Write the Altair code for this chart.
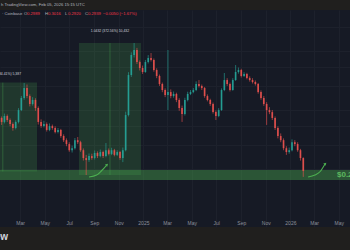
import altair as alt
import pandas as pd

# ---------------- data (ADA/USD weekly candles) ----------------
week_dates = [d.strftime("%Y-%m-%d") for d in pd.date_range("2024-01-08", periods=109, freq="7D")]

opens = [.526, .548, .523, .561, .535, .510, .487, .523, .601, .693,
         .779, .709, .646, .677, .616, .523, .498, .510, .476, .498,
         .487, .464, .476, .443, .422, .403, .375, .384, .422, .412,
         .375, .342, .334, .350, .342, .363, .350, .367, .350, .375,
         .359, .375, .355, .367, .342, .375, .567, .908, 1.149, 1.219,
         1.058, .986, .941, 1.058, 1.109, 1.083, .963, .898, .817, .761,
         .718, .743, .709, .727, .677, .616, .575, .677, .727, .743,
         .761, .817, .798, .779, .709, .677, .646, .587, .561, .601,
         .761, .856, .817, .761, .856, .941, .963, .898, .918, .876,
         .856, .836, .817, .743, .693, .646, .601, .587, .548, .487,
         .443, .422, .384, .367, .375, .412, .403, .375, .342]
highs = [.568, .558, .577, .571, .545, .520, .533, .615, .710, .827,
         .812, .723, .700, .691, .628, .539, .530, .520, .514, .507,
         .497, .487, .482, .452, .431, .412, .396, .433, .438, .419,
         .383, .355, .361, .360, .374, .370, .378, .373, .408, .383,
         .386, .381, .375, .372, .387, .590, .939, 1.186, 1.3232, 1.249,
         1.078, 1.015, 1.084, 1.148, 1.176, 1.103, .983, .913, .831, .776,
         1.219, .767, .748, .738, .691, .634, .695, .746, .761, .780,
         .843, .856, .812, .789, .723, .687, .657, .599, .615, .776,
         .930, .875, .831, .875, 1.021, .992, .977, .939, .932, .894,
         .875, .852, .827, .758, .710, .660, .622, .602, .558, .497,
         .457, .431, .393, .387, .426, .422, .412, .381, .345]
lows = [.514, .505, .514, .523, .497, .472, .479, .514, .594, .679,
        .691, .628, .634, .596, .507, .488, .490, .467, .469, .477,
        .457, .457, .434, .413, .393, .368, .365, .378, .403, .368,
        .332, .2800, .327, .335, .336, .342, .345, .342, .345, .353,
        .354, .349, .350, .335, .326, .370, .558, .888, 1.116, 1.034,
        .958, .920, .932, 1.040, 1.065, .945, .875, .799, .742, .700,
        .601, .691, .695, .660, .596, .523, .564, .666, .717, .733,
        .751, .784, .761, .695, .666, .632, .577, .535, .553, .596,
        .751, .799, .748, .755, .847, .923, .882, .888, .863, .840,
        .822, .802, .729, .679, .632, .505, .573, .535, .476, .431,
        .412, .375, .355, .360, .370, .393, .368, .332, .274]
closes = [.548, .523, .561, .535, .510, .487, .523, .601, .693, .779,
          .709, .646, .677, .616, .523, .498, .510, .476, .498, .487,
          .464, .476, .443, .422, .403, .375, .384, .422, .412, .375,
          .342, .334, .350, .342, .363, .350, .367, .350, .375, .359,
          .375, .355, .367, .342, .375, .567, .908, 1.149, 1.219, 1.058,
          .986, .941, 1.058, 1.109, 1.083, .963, .898, .817, .761, .718,
          .743, .709, .727, .677, .616, .575, .677, .727, .743, .761,
          .817, .798, .779, .709, .677, .646, .587, .561, .601, .761,
          .856, .817, .761, .856, .941, .963, .898, .918, .876, .856,
          .836, .817, .743, .693, .646, .601, .587, .548, .487, .443,
          .422, .384, .367, .375, .412, .403, .375, .342, .2939]

# price-range boxes drawn on the chart
box_start = ["2023-10-26", "2024-07-25"]
box_end = ["2024-04-12", "2024-12-26"]
box_mid = ["2024-01-18", "2024-10-10"]
box_low = [0.2921, 0.2800]
box_high = [0.8308, 1.3232]
box_text = ["0.5387 (184.41%) 5,387", "1.0432 (372.56%) 10,432"]
box_label_price = [0.919, 1.524]

# support zone
support_low = 0.2640
support_high = 0.2971
support_mid = 0.2800
support_label = "$0.28"

# hand-drawn arrows
arrow_id = [1, 1, 1, 1, 2, 2, 2, 2]
arrow_dates = ["2024-08-19", "2024-09-07", "2024-09-19", "2024-10-02",
               "2026-02-14", "2026-03-03", "2026-03-16", "2026-03-28"]
arrow_prices = [0.2736, 0.2800, 0.2945, 0.3151,
                0.2736, 0.2800, 0.2920, 0.3188]

header_text = "h TradingView.com, Feb 05, 2026 15:15 UTC"
legend_labels = ["· Coinbase", "O", "0.2989", "H", "0.3016", "L", "0.2920", "C", "0.2939", "−0.0050 (−1.67%)"]
legend_kind = ["name", "key", "val", "key", "val", "key", "val", "key", "val", "val"]

tick_dates = [(2024, 1), (2024, 3), (2024, 5), (2024, 7), (2024, 9), (2024, 11),
              (2025, 1), (2025, 3), (2025, 5), (2025, 7), (2025, 9), (2025, 11),
              (2026, 1), (2026, 3), (2026, 5)]

# ---------------- tables ----------------
candles = pd.DataFrame({"date": week_dates, "open": opens, "high": highs, "low": lows, "close": closes})
boxes = pd.DataFrame({"start": box_start, "end": box_end, "mid": box_mid, "low": box_low,
                      "high": box_high, "text": box_text, "lp": box_label_price})
band = pd.DataFrame({"start": ["2024-01-11"], "end": ["2026-05-29"], "low": [support_low],
                     "high": [support_high], "mid": [support_mid], "text": [support_label]})
arrows = pd.DataFrame({"id": arrow_id, "date": arrow_dates, "price": arrow_prices})
tips = arrows.groupby("id").tail(1)

legend_x = [2, 24, 27, 45, 48, 65, 68, 85, 88, 103]
legend_col = {"name": "#b2b5be", "key": "#b2b5be", "val": "#f23645"}
legend = pd.DataFrame({"t": legend_labels, "px": legend_x, "c": [legend_col[k] for k in legend_kind]})

UP, DOWN = "#26a69a", "#ef5350"
GREEN = "#4caf50"
FONT = "Liberation Sans"
AXIS_GREY = "#8c909a"

xs = alt.Scale(type="utc", padding=0,
               domain=[alt.DateTime(year=2024, month=1, date=11, utc=True),
                       alt.DateTime(year=2026, month=5, date=29, utc=True)])
ys = alt.Scale(type="log", domain=[0.152, 1.951], nice=False, padding=0)

xaxis = alt.Axis(
    values=[alt.DateTime(year=y, month=m, date=1, utc=True) for y, m in tick_dates],
    labelExpr="utcmonth(datum.value) == 0 ? utcFormat(datum.value, '%Y') : utcFormat(datum.value, '%b')",
    title=None, grid=True, gridColor="#1d212c", gridWidth=1, ticks=False, domain=False,
    labelColor=AXIS_GREY, labelFont=FONT, labelFontSize=5, labelPadding=1, offset=-8,
    labelOverlap=False, labelFlush=False, labelBound=False,
)
yaxis = alt.Axis(labels=False, ticks=False, domain=False, title=None, grid=True,
                 gridColor="#1d212c", values=[0.3, 0.4, 0.5, 0.6, 0.8, 1.0, 1.2, 1.6])


def X(field):
    return alt.X(field, type="temporal", scale=xs, axis=xaxis)


def Y(field):
    return alt.Y(field, type="quantitative", scale=ys, axis=yaxis)


box_rects = alt.Chart(boxes).mark_rect(color=GREEN, opacity=0.2, clip=True).encode(
    x=X("start"), x2="end", y=Y("high"), y2="low")
box_lines = alt.Chart(boxes).mark_rule(color=GREEN, opacity=0.45, strokeWidth=0.8, clip=True).encode(
    x=X("mid"), y=Y("high"), y2="low")
band_rect = alt.Chart(band).mark_rect(color=GREEN, opacity=0.4, clip=True).encode(
    x=X("start"), x2="end", y=Y("high"), y2="low")

candle_color = alt.condition("datum.close >= datum.open", alt.value(UP), alt.value(DOWN))
wicks = alt.Chart(candles).mark_rule(strokeWidth=0.7, opacity=0.85).encode(
    x=X("date"), y=Y("low"), y2="high", color=candle_color)
bodies = alt.Chart(candles).mark_bar(size=1.7, opacity=0.85).encode(
    x=X("date"), y=Y("open"), y2="close", color=candle_color)

arrow_lines = alt.Chart(arrows).mark_line(color=GREEN, strokeWidth=1.1, interpolate="monotone").encode(
    x=X("date"), y=Y("price"), detail="id:N")
arrow_tips = alt.Chart(tips).mark_point(shape="triangle", filled=True, color=GREEN, size=10,
                                        angle=45, opacity=1).encode(x=X("date"), y=Y("price"))

box_labels = alt.Chart(boxes).mark_text(font=FONT, fontSize=3.4, color="#d1d4dc").encode(
    x=X("mid"), y=Y("lp"), text="text:N")
support_text = alt.Chart(band).mark_text(font=FONT, fontSize=8, fontWeight="bold", color="#5cb85f",
                                         align="left", baseline="middle").encode(
    x=alt.value(337), y=Y("mid"), text="text:N")

header = alt.Chart(pd.DataFrame({"t": [header_text]})).mark_text(
    font=FONT, fontSize=4.2, color="#b2b5be", align="left", baseline="middle").encode(
    x=alt.value(1), y=alt.value(-5), text="t:N")
legend_text = alt.Chart(legend).mark_text(font=FONT, fontSize=4.2, align="left", baseline="middle").encode(
    x=alt.X("px:Q", scale=None), y=alt.value(4), text="t:N", color=alt.Color("c:N", scale=None))
logo = alt.Chart(pd.DataFrame({"t": ["TradingView"]})).mark_text(
    font=FONT, fontSize=10, fontWeight="bold", color="#d1d4dc", align="right", baseline="middle").encode(
    x=alt.value(8), y=alt.value(227), text="t:N")

chart = alt.layer(
    box_rects, box_lines, band_rect, wicks, bodies, arrow_lines, arrow_tips,
    box_labels, support_text, header, legend_text, logo,
).properties(
    width=350, height=217,
    autosize=alt.AutoSizeParams(type="none"),
    padding={"left": 0, "top": 10, "right": 0, "bottom": 23},
    background="#201f1e",
).configure_view(fill="#161a25", stroke=None)

chart.save("out.html", embed_options={"renderer": "svg", "actions": False})
